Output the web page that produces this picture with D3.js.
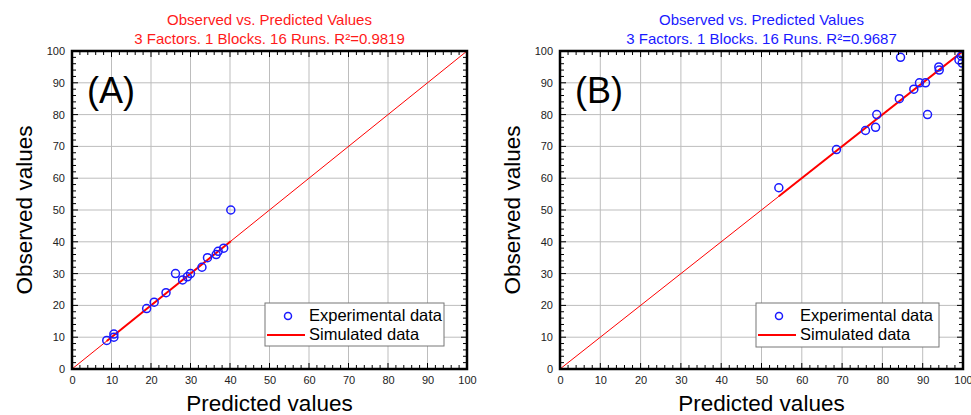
<!DOCTYPE html>
<html>
<head>
<meta charset="utf-8">
<script src="https://cdn.jsdelivr.net/npm/d3@7"></script>
<style>
  html, body { margin: 0; padding: 0; background: #fff; }
  svg { display: block; font-family: "Liberation Sans", Arial, sans-serif; }
</style>
</head>
<body>
<svg id="chart" width="971" height="415"></svg>
<script>
// Panel A: predicted vs observed
const predictedA = [8.8, 10.6, 10.6, 18.9, 20.8, 23.8, 26.2, 28.0, 29.2, 30.0, 32.9, 34.3, 36.5, 37.0, 38.4, 40.2];
const observedA  = [9, 11, 10, 19, 21, 24, 30, 28, 29, 30, 32, 35, 36, 37, 38, 50];
// Panel B: predicted vs observed
const predictedB = [54.3, 68.6, 75.8, 78.3, 78.6, 84.2, 84.5, 87.8, 89.2, 90.7, 91.2, 94.0, 94.1, 99.0, 99.6, 99.8];
const observedB  = [57, 69, 75, 76, 80, 85, 98, 88, 90, 90, 80, 95, 94, 97.2, 98.4, 96.2];

const axisDomain = [0, 100];
const majorTicks = [0, 10, 20, 30, 40, 50, 60, 70, 80, 90, 100];
const minorTicks = d3.range(0, 101, 2);

const titleLine1 = "Observed vs. Predicted Values";
const subtitleA = "3 Factors. 1 Blocks. 16 Runs. R\u00B2=0.9819";
const subtitleB = "3 Factors. 1 Blocks. 16 Runs. R\u00B2=0.9687";
const legendLabels = ["Experimental data", "Simulated data"];

const svg = d3.select("#chart");

const panels = [
  { id: "A", tag: "(A)", pred: predictedA, obs: observedA, sub: subtitleA, titleColor: "#ff1a1a",
    left: 72, right: 467, top: 51, bottom: 369, legend: { x: 265, y: 303, w: 179, h: 43 } },
  { id: "B", tag: "(B)", pred: predictedB, obs: observedB, sub: subtitleB, titleColor: "#1a1aff",
    left: 560, right: 963, top: 51, bottom: 369, legend: { x: 756, y: 303, w: 183, h: 44 } }
];

panels.forEach(p => {
  const x = d3.scaleLinear().domain(axisDomain).range([p.left, p.right]);
  const y = d3.scaleLinear().domain(axisDomain).range([p.bottom, p.top]);
  const g = svg.append("g");

  // clip region for the plot area
  g.append("clipPath").attr("id", "clip" + p.id)
    .append("rect").attr("x", p.left).attr("y", p.top)
    .attr("width", p.right - p.left).attr("height", p.bottom - p.top);

  // grid
  const grid = g.append("g").attr("stroke", "#bdbdbd").attr("stroke-width", 1);
  majorTicks.slice(1, -1).forEach(t => {
    grid.append("line").attr("x1", x(t)).attr("x2", x(t)).attr("y1", p.top).attr("y2", p.bottom);
    grid.append("line").attr("y1", y(t)).attr("y2", y(t)).attr("x1", p.left).attr("x2", p.right);
  });

  const plot = g.append("g").attr("clip-path", `url(#clip${p.id})`);

  // reference diagonal y = x
  plot.append("line")
    .attr("x1", x(0)).attr("y1", y(0)).attr("x2", x(100)).attr("y2", y(100))
    .attr("stroke", "#ff0000").attr("stroke-width", 1);

  // simulated line across the predicted range
  const ext = d3.extent(p.pred);
  plot.append("line")
    .attr("x1", x(ext[0])).attr("y1", y(ext[0])).attr("x2", x(ext[1])).attr("y2", y(ext[1]))
    .attr("stroke", "#ff0000").attr("stroke-width", 2);

  // experimental points
  plot.selectAll("circle.pt").data(p.pred.map((v, i) => [v, p.obs[i]]))
    .join("circle").attr("class", "pt")
    .attr("cx", d => x(d[0])).attr("cy", d => y(d[1])).attr("r", 4)
    .attr("fill", "none").attr("stroke", "#1a1aff").attr("stroke-width", 1.5);

  // axes with inward ticks on all four sides
  const bottomAxis = d3.axisBottom(x).tickValues(majorTicks).tickSize(0).tickPadding(7).tickFormat(d3.format("d"));
  const leftAxis = d3.axisLeft(y).tickValues(majorTicks).tickSize(0).tickPadding(7).tickFormat(d3.format("d"));
  const bx = g.append("g").attr("transform", `translate(0,${p.bottom})`).call(bottomAxis);
  const ly = g.append("g").attr("transform", `translate(${p.left},0)`).call(leftAxis);
  [bx, ly].forEach(a => {
    a.select(".domain").remove();
    a.selectAll("text").attr("font-size", 11).attr("fill", "#222")
      .attr("font-family", "Liberation Sans, Arial, sans-serif");
  });

  const ticks = g.append("g").attr("stroke", "#000").attr("stroke-width", 1);
  minorTicks.forEach(t => {
    const len = t % 10 === 0 ? 6 : 4;
    ticks.append("line").attr("x1", x(t)).attr("x2", x(t)).attr("y1", p.bottom).attr("y2", p.bottom - len);
    ticks.append("line").attr("x1", x(t)).attr("x2", x(t)).attr("y1", p.top).attr("y2", p.top + len);
    ticks.append("line").attr("y1", y(t)).attr("y2", y(t)).attr("x1", p.left).attr("x2", p.left + len);
    ticks.append("line").attr("y1", y(t)).attr("y2", y(t)).attr("x1", p.right).attr("x2", p.right - len);
  });

  // frame
  g.append("rect").attr("x", p.left).attr("y", p.top)
    .attr("width", p.right - p.left).attr("height", p.bottom - p.top)
    .attr("fill", "none").attr("stroke", "#000").attr("stroke-width", 2.5);

  // titles
  const cx = (p.left + p.right) / 2;
  g.append("text").attr("x", cx).attr("y", 25).attr("text-anchor", "middle")
    .attr("font-size", 15).attr("fill", p.titleColor).text(titleLine1);
  g.append("text").attr("x", cx).attr("y", 44).attr("text-anchor", "middle")
    .attr("font-size", 15).attr("fill", p.titleColor).text(p.sub);

  // axis titles
  g.append("text").attr("x", cx).attr("y", 411).attr("text-anchor", "middle")
    .attr("font-size", 22.5).attr("fill", "#000").text("Predicted values");
  g.append("text").attr("transform", `translate(${p.left - 40},${(p.top + p.bottom) / 2}) rotate(-90)`)
    .attr("text-anchor", "middle").attr("font-size", 22.5).attr("fill", "#000").text("Observed values");

  // panel tag
  g.append("text").attr("x", p.left + 15).attr("y", 103)
    .attr("font-size", 36).attr("fill", "#000").text(p.tag);

  // legend
  const L = p.legend;
  const lg = g.append("g");
  lg.append("rect").attr("x", L.x).attr("y", L.y).attr("width", L.w).attr("height", L.h)
    .attr("fill", "#fff").attr("stroke", "#777").attr("stroke-width", 1);
  lg.append("circle").attr("cx", L.x + 23).attr("cy", L.y + 13).attr("r", 3.5)
    .attr("fill", "none").attr("stroke", "#1a1aff").attr("stroke-width", 1.5);
  lg.append("line").attr("x1", L.x + 2).attr("x2", L.x + 40).attr("y1", L.y + 32).attr("y2", L.y + 32)
    .attr("stroke", "#ff0000").attr("stroke-width", 2);
  legendLabels.forEach((t, i) => {
    lg.append("text").attr("x", L.x + 44).attr("y", L.y + 18 + i * 19)
      .attr("font-size", 16.5).attr("fill", "#000").text(t);
  });
});
</script>
</body>
</html>
